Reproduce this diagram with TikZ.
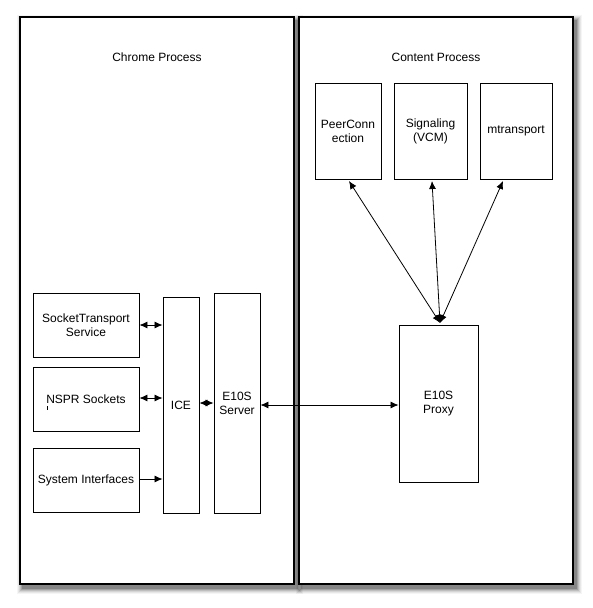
\documentclass[tikz,border=0pt]{standalone}
\usepackage{fontspec}
\setmainfont{Liberation Sans}
\usetikzlibrary{arrows.meta}
\begin{document}
\begin{tikzpicture}[x=1pt,y=-1pt,
  lbl/.style={font=\fontsize{12}{14}\selectfont, align=center, inner sep=0pt},
  bigbox/.style={draw, line width=1.4pt, fill=white},
  boxn/.style={draw, line width=0.9pt, fill=white, inner sep=0pt, align=center, font=\fontsize{12}{14}\selectfont},
  conn/.style={line width=0.8pt, {Latex[length=8pt,width=7pt]}-{Latex[length=8pt,width=7pt]}},
  oneway/.style={line width=0.8pt, -{Latex[length=8pt,width=7pt]}}
]
\useasboundingbox (0,0) rectangle (593,608);
% shadows
\foreach \o/\a in {6/0.04,5/0.06,4/0.08,3/0.11,2/0.14,1/0.18}{
  \fill[black, opacity=\a] (20-\o+3,17-\o+4) rectangle (294+\o+3,584+\o+4);
  \fill[black, opacity=\a] (299-\o+3,17-\o+4) rectangle (573+\o+3,584+\o+4);
}
\draw[bigbox] (20,17) rectangle (294,584);
\draw[bigbox] (299,17) rectangle (573,584);
\node[lbl] (chromet) at (157,57) {Chrome Process};
\node[lbl] (contentt) at (436,57) {Content Process};

% content process boxes
\node[boxn, minimum width=66pt, minimum height=96pt] (pc) at (348,131) {PeerConn\\ection};
\node[boxn, minimum width=73pt, minimum height=96pt] (sig) at (430.5,131) {Signaling\\(VCM)};
\node[boxn, minimum width=72pt, minimum height=96pt] (mt) at (516,131) {mtransport};
\node[boxn, minimum width=79pt, minimum height=157pt] (proxy) at (438.5,403.5) {E10S\\Proxy};

% chrome process boxes
\node[boxn, minimum width=106pt, minimum height=64pt] (sts) at (86,325) {SocketTransport\\Service};
\node[boxn, minimum width=106pt, minimum height=64pt] (nspr) at (86,399) {NSPR Sockets};
\node[boxn, minimum width=106pt, minimum height=64pt] (sys) at (86,480) {System Interfaces};
\node[boxn, minimum width=36pt, minimum height=216pt] (ice) at (181,405) {ICE};
\node[boxn, minimum width=46pt, minimum height=220pt] (srv) at (237,403) {E10S\\Server};

% tiny mark
\draw[line width=1pt] (47,406) -- (47,410);

% connectors
\draw[conn] (sts.east) -- (sts.east -| ice.west);
\draw[conn] (nspr.east |- 0,398) -- (ice.west |- 0,398);
\draw[oneway] (sys.east |- 0,479) -- (ice.west |- 0,479);
\draw[conn] (ice.east |- 0,403) -- (srv.west |- 0,403);
\draw[conn] (srv.east |- 0,405) -- (proxy.west |- 0,405);
\coordinate (pt) at (440,323);
\draw[conn] (pt) -- (349,181);
\draw[conn] (pt) -- (432,181);
\draw[conn] (pt) -- (503,181);
\end{tikzpicture}
\end{document}
